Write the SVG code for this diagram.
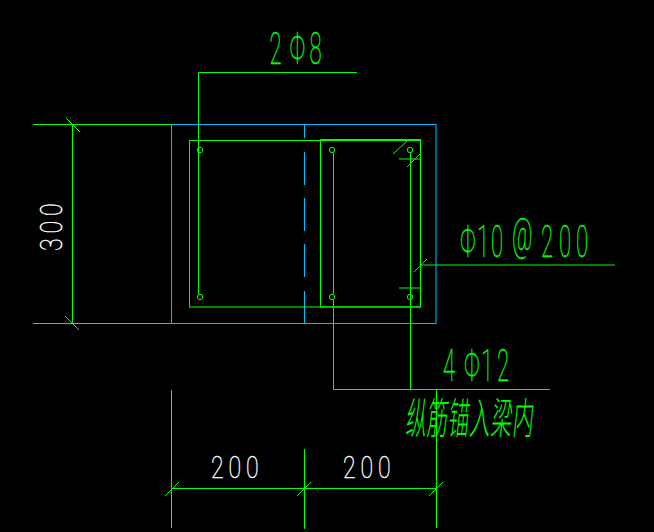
<svg xmlns="http://www.w3.org/2000/svg" width="654" height="532" viewBox="0 0 654 532">
<style>
.g{stroke:#00ff00;stroke-width:1;fill:none}
.c{stroke:#00bfff;stroke-width:1;fill:none}
.tg,.tw{font-family:"Roboto","Liberation Sans",sans-serif;font-weight:100;stroke-width:.5;paint-order:stroke}
.tg{fill:#00ff00;stroke:#00ff00}
.tw{fill:#ffffff;stroke:#ffffff}
.cj{font-family:"Noto Sans CJK SC",sans-serif;font-weight:300;fill:#00ff00}
</style>
<rect width="654" height="532" fill="#000000"/>
<g id="connectors">
<path class="g" d="M33 124.5H171.5M33 323.5H171.5M72.5 124.5V323.5M66 118L80 132M65 316L79 330"/>
<path class="g" d="M198.5 294V72.5H357"/>
<path class="g" d="M333.5 300V389.5H550M333.5 153V294M410.5 153V389.5"/>
<path class="g" d="M421 265H615M414 272L427 259"/>
<path class="g" d="M393 154L407 141M407 167L420 154M399 159H420M399 288H420"/>
<path class="g" d="M171.5 390V528M304.5 449V529M436.5 389V528M171 488.5H436M165 496L179 482M297 496L311 482M429 496L443 482"/>
</g>
<g id="beam-outline">
<rect class="c" x="171.5" y="124.5" width="264.5" height="199"/>
<path class="c" d="M304.5 124V138M304.5 152V185M304.5 198V231M304.5 244V277M304.5 291V323"/>
</g>
<g id="stirrups">
<rect class="g" x="189.5" y="140.5" width="231" height="166.5"/>
<rect class="g" x="320.5" y="139.5" width="100" height="167.5"/>
</g>
<g id="bars">
<circle class="g" cx="200" cy="150" r="2.7"/>
<circle class="g" cx="200" cy="297" r="2.7"/>
<circle class="g" cx="332" cy="150" r="2.7"/>
<circle class="g" cx="332" cy="297" r="2.7"/>
<circle class="g" cx="410" cy="150" r="2.7"/>
<circle class="g" cx="410" cy="297" r="2.7"/>
</g>
<g id="label-2phi8"><text class="tg" font-size="44" transform="translate(269.5 64) scale(.5 1)" x="0 40 80">2Φ8</text></g>
<g id="label-phi10"><text class="tg" font-size="44" transform="translate(460 257) scale(.5 1)" x="0 34 62 104 162 198 232">Φ10<tspan dy="-7">@</tspan><tspan dy="7">200</tspan></text></g>
<g id="label-4phi12"><text class="tg" font-size="44" transform="translate(443 381) scale(.5 1)" x="0 42 76 108">4Φ12</text></g>
<g id="label-note"><text class="cj" font-size="36" transform="translate(405 434) skewX(-6) scale(.58 1.2)" x="0 36 73 110 147 184">纵筋锚入梁内</text></g>
<g id="dim-300"><text class="tw" font-size="32" transform="translate(61.5 251) rotate(-90) scale(.72 1)" x="0 24.3 48.6">300</text></g>
<g id="dim-200-left"><text class="tw" font-size="32" transform="translate(211 478) scale(.72 1)" x="0 24.3 48.6">200</text></g>
<g id="dim-200-right"><text class="tw" font-size="32" transform="translate(343 478) scale(.72 1)" x="0 24.3 48.6">200</text></g>
</svg>
